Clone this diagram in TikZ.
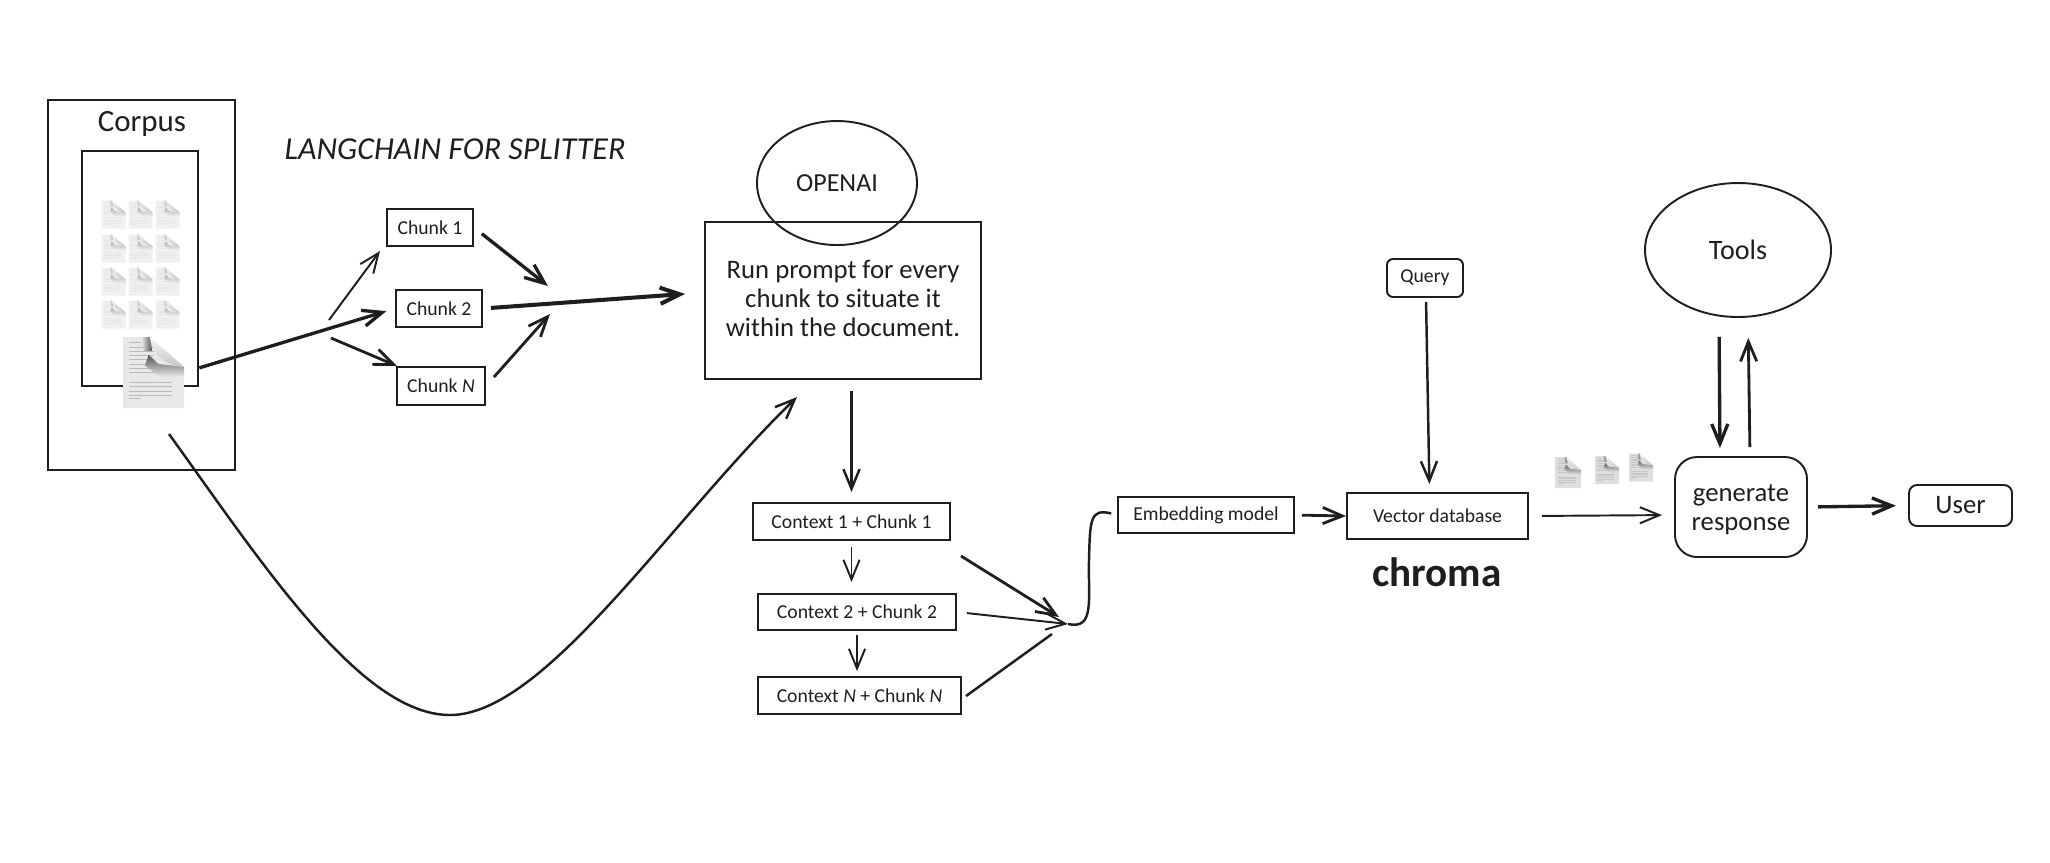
\documentclass[tikz,border=0pt]{standalone}
\usepackage{fontspec}
\setmainfont{Carlito}
\usetikzlibrary{arrows.meta,calc,shapes.geometric}
\definecolor{inkblack}{HTML}{1E1E1E}
\tikzset{
	>={Straight Barb[length=5.6pt,width=4.6pt]},
	box/.style={draw,rectangle,line width=.55pt,inner sep=0pt},
	roundbox/.style={box,rounded corners=#1},
	oval/.style={draw,ellipse,line width=.55pt,inner sep=0pt},
	link/.style={->,line width=.55pt},
	heavylink/.style={->,line width=.95pt},
	smalltext/.style={font=\fontsize{5.6}{6.7}\selectfont},
	bodytext/.style={font=\fontsize{7.6}{8.25}\selectfont,align=center},
	pics/docicon/.style n args={3}{code={
		\fill[#1] (-.5,-.5) -- (-.5,.5) -- (-.06,.5) -- (.5,.08) -- (.5,-.5) -- cycle;
		\foreach \v in {.36,.3,.24,.18,.12,.06,0}
			\draw[#3,line width=.2pt] (-.4,\v) -- (.0,\v);
		\foreach \v in {-.14,-.2,-.26,-.32}
			\draw[#3,line width=.2pt] (-.4,\v) -- (.3,\v);
		\draw[#3,line width=.2pt] (-.4,.42) -- (-.2,.42);
		\draw[#3,line width=.2pt] (-.4,-.36) -- (-.2,-.36);
		\shade[left color=#1,right color=#2] (-.2,.5) -- (-.06,.5) -- (-.02,.3) -- (-.16,.3) -- cycle;
		\shade[top color=#2,bottom color=#1] (-.08,.25) -- (.08,.12) -- (.5,.08) -- (.5,-.06) -- (.1,-.06) -- (-.14,.1) -- cycle;
		\shade[top color=black!4,bottom color=black!22] (-.06,.5) .. controls (0,.3) and (.08,.12) .. (.5,.08) -- cycle;
		\coordinate (-east) at (.5,0);
	}},
	tiledoc/.style={xscale=.24,yscale=.28},
}
\begin{document}
\begin{tikzpicture}[color=inkblack]
	\useasboundingbox (0,0) rectangle (20.5,-8.62);

	% corpus
	\node[box,minimum width=1.87cm,minimum height=3.7cm] (corpus) at (1.415,-2.85) {};
	\node[font=\fontsize{8.8}{10}\selectfont] (corpuslabel) at (1.42,-1.235) {Corpus};
	\node[box,minimum width=1.16cm,minimum height=2.35cm] (corpusinner) at (1.4,-2.685) {};
	\foreach \cx/\i in {1.135/1,1.405/2,1.675/3}
		\foreach \cy/\j in {2.145/1,2.485/2,2.815/3,3.145/4}
			\pic[tiledoc] (tile\i\j) at (\cx,-\cy) {docicon={black!6}{black!30}{black!9}};
	\pic[xscale=.61,yscale=.71] (bigdoc) at (1.535,-3.725) {docicon={black!9}{black!68}{black!27}};

	% splitter
	\node[font=\fontsize{9.1}{10}\selectfont\itshape] (splitlabel) at (4.55,-1.49) {LANGCHAIN FOR SPLITTER};
	\node[box,smalltext,minimum width=.86cm,minimum height=.37cm] (chunkone) at (4.3,-2.275) {Chunk 1};
	\node[box,smalltext,minimum width=.86cm,minimum height=.37cm] (chunktwo) at (4.39,-3.085) {Chunk 2};
	\node[box,smalltext,minimum width=.88cm,minimum height=.38cm] (chunkn) at (4.41,-3.86) {Chunk \textit{N}};
	\coordinate (splita) at (3.29,-3.2);
	\coordinate (splitb) at (3.31,-3.38);
	\coordinate (joina) at (5.48,-2.86);
	\coordinate (joinb) at (5.5,-3.14);
	\draw[link] (splita) -- (3.8,-2.51) coordinate (splitatip);
	\draw[link,line width=.8pt] (splitb) -- (3.97,-3.66) coordinate (splitbtip);
	\draw[heavylink,shorten <=.16cm,shorten >=.09cm] (bigdoc-east) -- (chunktwo.west);
	\draw[heavylink,shorten <=.1cm] (chunkone.east) -- (joina);
	\draw[link,line width=.8pt,shorten <=.12cm] (chunkn.east) -- (joinb);

	% prompt
	\node[box,minimum width=2.76cm,minimum height=1.57cm] (promptbox) at (8.43,-3.005) {};
	\node[bodytext] (prompttext) at (8.43,-2.985) {Run prompt for every\\chunk to situate it\\within the document.};
	\node[oval,minimum width=1.6cm,minimum height=1.24cm,font=\fontsize{7.4}{9}\selectfont] (openai) at (8.37,-1.83) {OPENAI};
	\draw[->,line width=1.15pt,shorten <=.08cm,shorten >=.19cm] (chunktwo.east) -- ([yshift=.08cm]promptbox.west);
	\coordinate (sweepstart) at (1.69,-4.34);
	\coordinate (sweepend) at (7.97,-3.97);
	\draw[link,line width=.7pt] (sweepstart) .. controls (2.6,-5.6) and (3.6,-7.15) .. (4.5,-7.15)
		.. controls (5.45,-7.15) and (6.7,-5.2) .. (sweepend);

	% contexts
	\node[box,smalltext,minimum width=1.97cm,minimum height=.37cm] (ctxone) at (8.515,-5.215) {Context 1 + Chunk 1};
	\node[box,smalltext,minimum width=1.98cm,minimum height=.36cm] (ctxtwo) at (8.57,-6.12) {Context 2 + Chunk 2};
	\node[box,smalltext,minimum width=2.03cm,minimum height=.37cm] (ctxn) at (8.595,-6.955) {Context \textit{N} + Chunk \textit{N}};
	\draw[link,line width=.7pt,shorten <=.11cm,shorten >=.1cm] (promptbox.south -| ctxone.north) -- (ctxone.north);
	\draw[link,shorten <=.06cm,shorten >=.11cm] (ctxone.south) -- (ctxone.south |- ctxtwo.north);
	\draw[link,shorten <=.04cm,shorten >=.05cm] (ctxtwo.south) -- (ctxtwo.south |- ctxn.north);

	\coordinate (mergea) at (10.59,-6.17);
	\coordinate (merge) at (10.68,-6.24);
	\coordinate (mergeb) at (10.52,-6.34);
	\coordinate (ctxonestart) at (9.61,-5.56);
	\coordinate (ctxnstart) at (9.66,-6.96);
	\draw[link,line width=.8pt] (ctxonestart) -- (mergea);
	\draw[link,shorten <=.1cm] (ctxtwo.east) -- (merge);
	\draw[line width=.7pt] (ctxnstart) -- (mergeb);

	% retrieval
	\node[box,smalltext,minimum width=1.76cm,minimum height=.36cm] (embedding) at (12.06,-5.15) {Embedding model};
	\node[box,smalltext,minimum width=1.81cm,minimum height=.46cm] (vectordb) at (14.375,-5.16) {Vector database};
	\node[font=\fontsize{11.7}{14}\selectfont\bfseries] (chroma) at (14.37,-5.72) {chroma};
	\node[roundbox=.06cm,smalltext,minimum width=.76cm,minimum height=.38cm] (query) at (14.25,-2.78) {Query};
	\draw[line width=.7pt,shorten >=.06cm] (merge) .. controls (10.95,-6.3) and (10.88,-6) .. (10.89,-5.6)
		.. controls (10.9,-5.2) and (10.9,-5.08) .. (embedding.west);
	\draw[link,line width=.8pt,shorten <=.07cm] (embedding.east) -- (vectordb.west);
	\draw[link,line width=.7pt,shorten <=.04cm,shorten >=.08cm] ([xshift=.01cm]query.south) -- ([xshift=-.08cm]vectordb.north);

	% response
	\pic[xscale=.26,yscale=.31] (stackone) at (15.68,-4.725) {docicon={black!13}{black!60}{black!22}};
	\pic[tiledoc] (stacktwo) at (16.07,-4.7) {docicon={black!13}{black!60}{black!22}};
	\pic[tiledoc] (stackthree) at (16.41,-4.675) {docicon={black!13}{black!60}{black!22}};
	\node[roundbox=.22cm,minimum width=1.32cm,minimum height=1cm] (generate) at (17.41,-5.07) {};
	\node[bodytext] (generatetext) at (17.41,-5.1) {generate\\response};
	\node[roundbox=.08cm,font=\fontsize{7.6}{9}\selectfont,minimum width=1.03cm,minimum height=.41cm] (user) at (19.605,-5.055) {User};
	\node[oval,minimum width=1.86cm,minimum height=1.34cm,font=\fontsize{8}{10}\selectfont] (tools) at (17.38,-2.5) {Tools};
	\draw[link,shorten <=.13cm,shorten >=.12cm] (vectordb.east) -- ([yshift=-.08cm]generate.west);
	\draw[heavylink,shorten <=.1cm,shorten >=.12cm] (generate.east) -- (user.west);
	\draw[heavylink,shorten <=.19cm,shorten >=.08cm] ([xshift=-.19cm]tools.south) -- ([xshift=-.21cm]generate.north);
	\draw[link,line width=.8pt,shorten <=.09cm,shorten >=.2cm] ([xshift=.09cm]generate.north) -- ([xshift=.1cm]tools.south);
\end{tikzpicture}
\end{document}
